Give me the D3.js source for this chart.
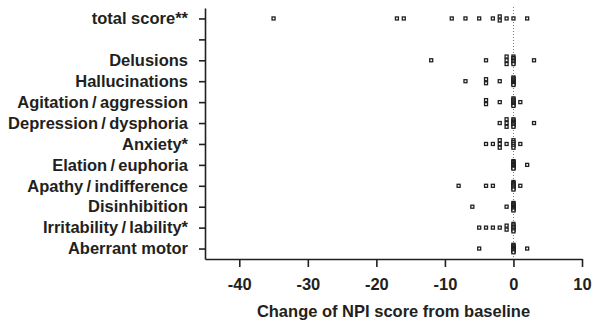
<!DOCTYPE html>
<html>
<head>
<meta charset="utf-8">
<script src="https://cdn.jsdelivr.net/npm/d3@7"></script>
<style>
  body { margin: 0; background: #fff; }
  text { font-family: "Liberation Sans", Arial, Helvetica, sans-serif; font-weight: bold; fill: #231f20; }
</style>
</head>
<body>
<div id="chart"></div>
<script>
// rows from top to bottom, "" is the empty spacer row
var categories = ["total score**", "", "Delusions", "Hallucinations",
  "Agitation\u2009/\u2009aggression", "Depression\u2009/\u2009dysphoria", "Anxiety*",
  "Elation\u2009/\u2009euphoria", "Apathy\u2009/\u2009indifference", "Disinhibition",
  "Irritability\u2009/\u2009lability*", "Aberrant motor"];

// change of score per patient, one array per row
var totalScore    = [-35, -17, -16, -9, -7, -5, -3, -2, -2, -1, 0, 2];
var spacer        = [];
var delusions     = [-12, -4, -1, -1, -1, 0, 0, 0, 0, 0, 0, 3];
var hallucinations = [-7, -4, -4, -2, 0, 0, 0, 0, 0, 0, 0, 0];
var agitation     = [-4, -4, -2, 0, 0, 0, 0, 0, 0, 0, 0, 1];
var depression    = [-2, -1, -1, -1, 0, 0, 0, 0, 0, 0, 0, 3];
var anxiety       = [-4, -3, -2, -2, -2, -1, 0, 0, 0, 0, 0, 1];
var elation       = [0, 0, 0, 0, 0, 0, 0, 0, 0, 0, 0, 2];
var apathy        = [-8, -4, -3, 0, 0, 0, 0, 0, 0, 0, 0, 1];
var disinhibition = [-6, -1, 0, 0, 0, 0, 0, 0, 0, 0, 0, 0];
var irritability  = [-5, -4, -3, -2, -1, -1, 0, 0, 0, 0, 0, 0];
var aberrant      = [-5, 0, 0, 0, 0, 0, 0, 0, 0, 0, 0, 2];

var xTicks = [-40, -30, -20, -10, 0, 10];

var rows = [totalScore, spacer, delusions, hallucinations, agitation, depression,
  anxiety, elation, apathy, disinhibition, irritability, aberrant];

var width = 592, height = 325;
var ink = "#231f20";
var fontSize = "16.5px";

var svg = d3.select("#chart").append("svg")
  .attr("width", width)
  .attr("height", height);

var x = d3.scaleLinear().domain([-45, 10]).range([205, 582]);
var y = d3.scalePoint().domain(categories).range([8, 259]).padding(0.5);

// dotted reference line at zero
svg.append("line")
  .attr("x1", x(0)).attr("x2", x(0))
  .attr("y1", 7).attr("y2", 259)
  .attr("stroke", "#7a7a7a")
  .attr("stroke-width", 1)
  .attr("stroke-dasharray", "1,2");

// points: equal values get stacked vertically around the row
var pts = [];
rows.forEach(function(vals, i) {
  var counts = d3.rollup(vals, function(v) { return v.length; }, function(d) { return d; });
  var seen = new Map();
  vals.forEach(function(v) {
    var n = counts.get(v);
    var k = seen.get(v) || 0;
    seen.set(v, k + 1);
    var step = n > 1 ? Math.min(4, 7.5 / (n - 1)) : 0;
    pts.push({ cat: categories[i], value: v, off: (k - (n - 1) / 2) * step });
  });
});

var s = 3;
svg.append("g").selectAll("rect")
  .data(pts)
  .enter().append("rect")
  .attr("x", function(d) { return x(d.value) - s / 2; })
  .attr("y", function(d) { return y(d.cat) + d.off - s / 2; })
  .attr("width", s)
  .attr("height", s)
  .attr("fill", "#fff")
  .attr("stroke", ink)
  .attr("stroke-width", 1.3);

// axes
var xAxis = svg.append("g")
  .attr("transform", "translate(0,259)")
  .call(d3.axisBottom(x).tickValues(xTicks).tickSize(8).tickSizeOuter(0)
    .tickPadding(11).tickFormat(function(d) { return String(d); }));

var yAxis = svg.append("g")
  .attr("transform", "translate(205,0)")
  .call(d3.axisLeft(y).tickSize(6).tickSizeOuter(0).tickPadding(11));

[xAxis, yAxis].forEach(function(g) {
  g.selectAll("path, line").attr("stroke", ink).attr("stroke-width", 1.6);
  g.selectAll("text").attr("fill", ink)
    .style("font-size", fontSize)
    .style("font-family", "'Liberation Sans', Arial, sans-serif")
    .style("font-weight", "bold");
});

svg.append("text")
  .attr("x", (x.range()[0] + x.range()[1]) / 2)
  .attr("y", 317)
  .attr("text-anchor", "middle")
  .style("font-size", fontSize)
  .text("Change of NPI score from baseline");
</script>
</body>
</html>
